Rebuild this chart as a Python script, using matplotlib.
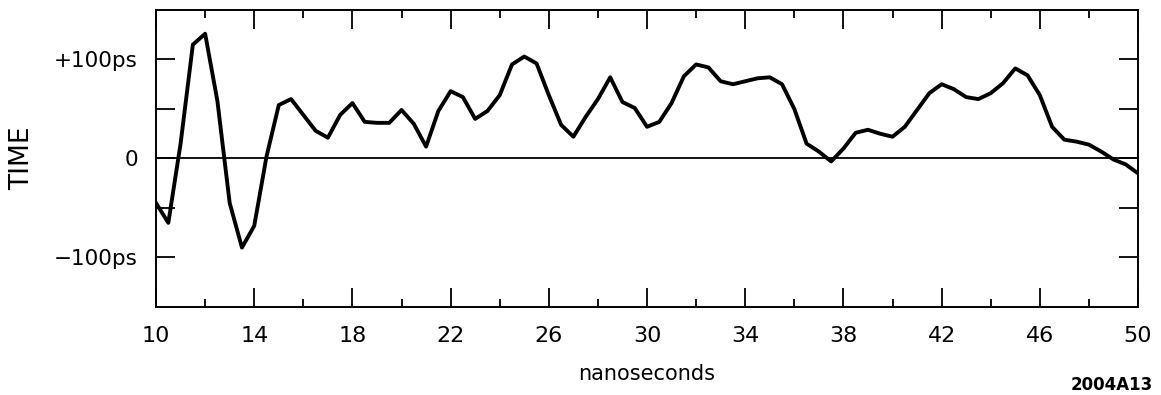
import numpy as np
import matplotlib
matplotlib.use('Agg')
import matplotlib.pyplot as plt

# Muestras cada 0.5 ns
t_ns = [10.0, 10.5, 11.0, 11.5, 12.0, 12.5, 13.0, 13.5, 14.0, 14.5,
        15.0, 15.5, 16.0, 16.5, 17.0, 17.5, 18.0, 18.5, 19.0, 19.5,
        20.0, 20.5, 21.0, 21.5, 22.0, 22.5, 23.0, 23.5, 24.0, 24.5,
        25.0, 25.5, 26.0, 26.5, 27.0, 27.5, 28.0, 28.5, 29.0, 29.5,
        30.0, 30.5, 31.0, 31.5, 32.0, 32.5, 33.0, 33.5, 34.0, 34.5,
        35.0, 35.5, 36.0, 36.5, 37.0, 37.5, 38.0, 38.5, 39.0, 39.5,
        40.0, 40.5, 41.0, 41.5, 42.0, 42.5, 43.0, 43.5, 44.0, 44.5,
        45.0, 45.5, 46.0, 46.5, 47.0, 47.5, 48.0, 48.5, 49.0, 49.5,
        50.0]
time_ps = [-45, -65, 15, 115, 126, 58, -45, -90, -68, 2,
           54, 60, 44, 28, 21, 44, 56, 37, 36, 36,
           49, 35, 12, 48, 68, 62, 40, 48, 64, 95,
           103, 96, 64, 34, 22, 42, 60, 82, 57, 51,
           32, 37, 56, 83, 95, 92, 78, 75, 78, 81,
           82, 75, 50, 15, 7, -3, 10, 26, 29, 25,
           22, 32, 49, 66, 75, 70, 62, 60, 66, 76,
           91, 84, 64, 32, 19, 17, 14, 7, -1, -6,
           -15]

x_ticks = [10, 14, 18, 22, 26, 30, 34, 38, 42, 46, 50]
x_minor = [12, 16, 20, 24, 28, 32, 36, 40, 44, 48]
y_ticks = [-100, 0, 100]
y_labels = ['\u2212100ps', '0', '+100ps']
y_minor = [-50, 50]

fig = plt.figure(figsize=(11.61, 3.95), dpi=100)
ax = fig.add_axes([0.1344, 0.2228, 0.8458, 0.7519])

ax.axhline(0, color='black', lw=1.3)
ax.plot(t_ns, time_ps, color='black', lw=2.8, solid_joinstyle='round')

ax.set_xlim(10, 50)
ax.set_ylim(-150, 150)

ax.set_xticks(x_ticks)
ax.set_xticks(x_minor, minor=True)
ax.set_yticks(y_ticks)
ax.set_yticklabels(y_labels)
ax.set_yticks(y_minor, minor=True)

ax.tick_params(axis='x', which='major', direction='in', length=14, width=1.3,
               top=True, bottom=True, labelsize=16, pad=14)
ax.tick_params(axis='x', which='minor', direction='in', length=6, width=1.3,
               top=True, bottom=True)
ax.tick_params(axis='y', which='both', direction='in', length=14, width=1.3,
               left=True, right=True, labelsize=15.5, pad=13)

for s in ax.spines.values():
    s.set_linewidth(1.4)

ax.set_xlabel('nanoseconds', fontsize=15, labelpad=13)
ax.set_ylabel('TIME', fontsize=19, labelpad=14)

fig.text(0.993, 0.003, '2004A13', ha='right', va='bottom',
         fontsize=12, fontweight='bold')

fig.savefig('out.png', dpi=100)
